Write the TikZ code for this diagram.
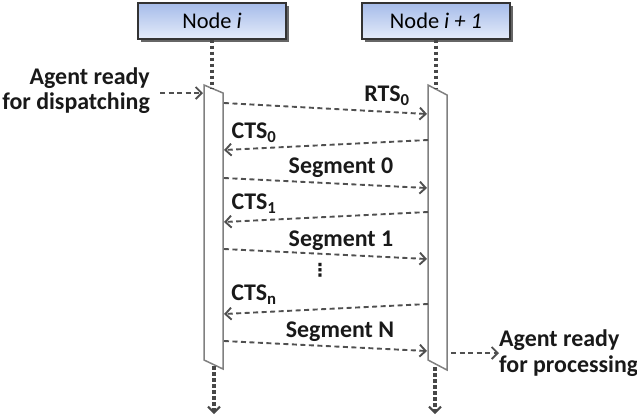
\documentclass[tikz,border=0pt]{standalone}
\usepackage{fontspec}
\setmainfont{Carlito}
\newfontfamily\symfont{DejaVu Sans}
\usetikzlibrary{arrows.meta}
\definecolor{hdtop}{HTML}{A6BCEA}
\definecolor{hdbot}{HTML}{E4EBF9}
\definecolor{msgc}{HTML}{505050}
\definecolor{barc}{HTML}{808080}
\tikzset{
  hdr/.style={draw=black!80, line width=1.4pt, top color=hdtop, bottom color=hdbot,
    minimum width=148bp, minimum height=36bp, inner sep=0pt,
    font=\fontsize{22.5}{26}\selectfont},
  hdrshadow/.style={fill=black!60, draw=none, minimum width=148bp, minimum height=36bp},
  life/.style={draw=black!72, line width=3.4pt, dash pattern=on 3.5bp off 2.5bp},
  lifearrow/.style={life, -{Straight Barb[length=6bp,width=12bp,line width=2pt]}},
  msg/.style={draw=msgc, line width=1.9pt, dash pattern=on 5bp off 3.5bp,
    -{Straight Barb[length=6bp,width=12bp,line width=1.9pt]}},
  lbl/.style={font=\fontsize{24}{25}\selectfont\bfseries, text=black!90, inner sep=0pt},
  actbar/.style={draw=barc, line width=1.5pt, fill=white},
}
\begin{document}
\begin{tikzpicture}[x=1bp,y=-1bp]
\useasboundingbox (0,0) rectangle (637,419);
% headers
\node[hdrshadow] at (214.5,23.5) {};
\node[hdr] (ni) at (212,21) {Node \textit{i}};
\node[hdrshadow] at (438.5,23.5) {};
\node[hdr] (nj) at (436,21) {Node \textit{i + 1}};
% activation bars
\coordinate (lbtl) at (204,85); \coordinate (lbtr) at (223,93);
\coordinate (lbbr) at (223,369); \coordinate (lbbl) at (204,360);
\coordinate (rbtl) at (428,85); \coordinate (rbtr) at (447,95);
\coordinate (rbbr) at (447,370); \coordinate (rbbl) at (428,360);
\draw[actbar] (lbtl) -- (lbtr) -- (lbbr) -- (lbbl) -- cycle;
\draw[actbar] (rbtl) -- (rbtr) -- (rbbr) -- (rbbl) -- cycle;
% lifelines
\coordinate (ltop) at (212,88);
\coordinate (rtop) at (436,89);
\coordinate (lbot) at (214,366);
\coordinate (rbot) at (435,367);
\coordinate (lend) at (214,414);
\coordinate (rend) at (435,414);
\draw[life] (ni.south) -- (ltop);
\draw[life] (nj.south) -- (rtop);
\draw[lifearrow] (lbot) -- (lend);
\draw[lifearrow] (rbot) -- (rend);
% agent ready for dispatching
\node[lbl, anchor=east, align=right] (disp) at (150,91) {Agent ready\\for dispatching};
\coordinate (dispin) at (203,93);
\draw[msg] (160,93) coordinate (dispout) -- (dispin);
% messages
\coordinate (m1a) at (224,103); \coordinate (m1b) at (427,114);
\coordinate (m2a) at (428,140); \coordinate (m2b) at (224,150);
\coordinate (m3a) at (224,178); \coordinate (m3b) at (427,188);
\coordinate (m4a) at (428,212); \coordinate (m4b) at (224,222);
\coordinate (m5a) at (224,249); \coordinate (m5b) at (427,259);
\coordinate (m6a) at (428,304); \coordinate (m6b) at (224,314);
\coordinate (m7a) at (224,341); \coordinate (m7b) at (427,351);
\draw[msg] (m1a) -- (m1b);
\draw[msg] (m2a) -- (m2b);
\draw[msg] (m3a) -- (m3b);
\draw[msg] (m4a) -- (m4b);
\draw[msg] (m5a) -- (m5b);
\draw[msg] (m6a) -- (m6b);
\draw[msg] (m7a) -- (m7b);
% labels
\node[lbl] (l1) at (387,96) {RTS\textsubscript{0}};
\node[lbl] (l2) at (254,133) {CTS\textsubscript{0}};
\node[lbl] (l3) at (341,168) {Segment 0};
\node[lbl] (l4) at (254,204) {CTS\textsubscript{1}};
\node[lbl] (l5) at (341,241) {Segment 1};
\node[lbl, font=\symfont\fontsize{18}{20}\selectfont\bfseries] (dots) at (320,270) {⋮};
\node[lbl] (l6) at (254,295) {CTS\textsubscript{n}};
\node[lbl] (l7) at (340,332) {Segment N};
% agent ready for processing
\coordinate (procin) at (451,353);
\node[lbl, anchor=west, align=left, font=\fontsize{24}{26}\selectfont\bfseries] (proc) at (499,353) {Agent ready\\for processing};
\draw[msg] (procin) -- (proc.west);
\end{tikzpicture}
\end{document}
